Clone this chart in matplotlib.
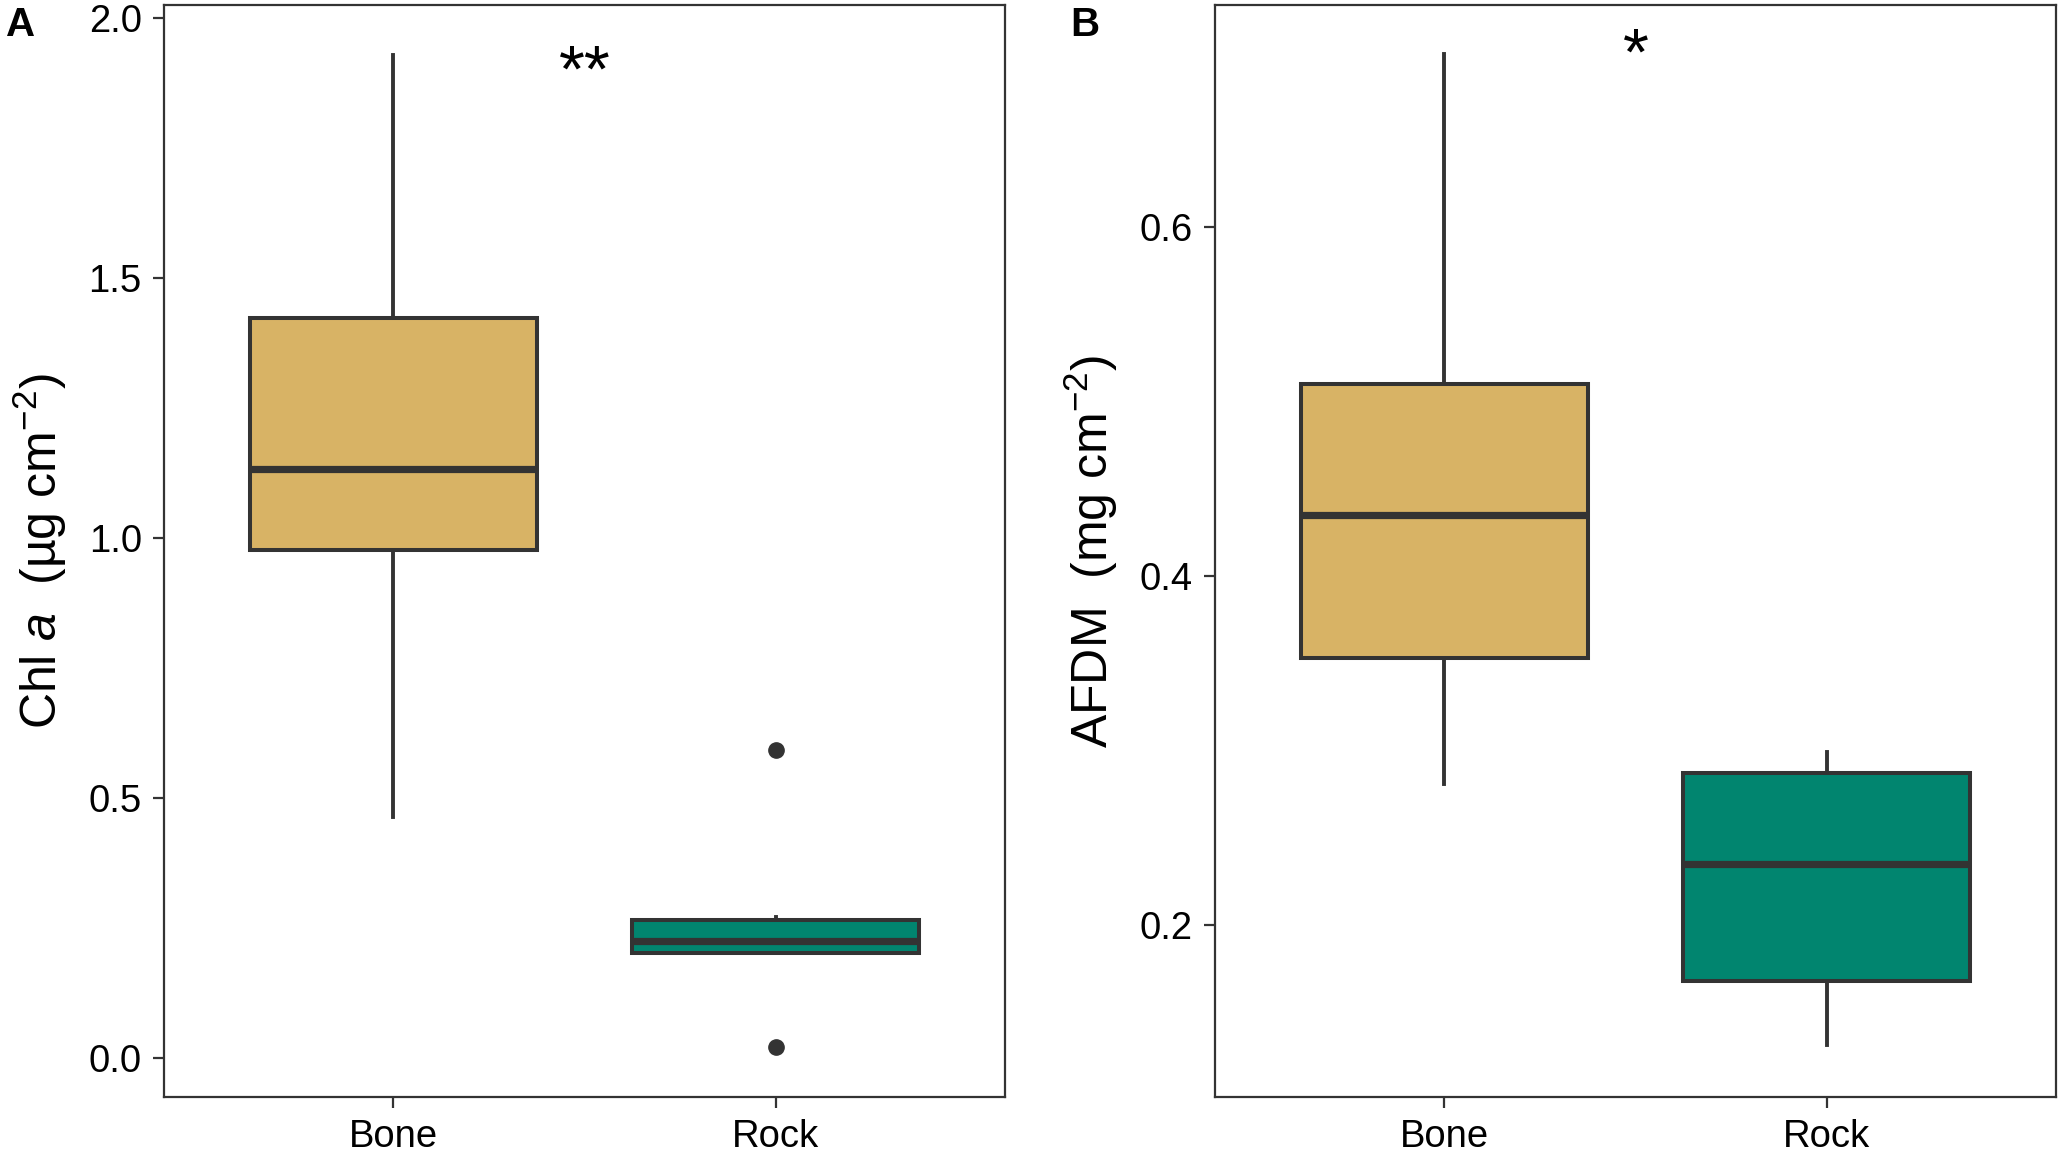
import matplotlib
matplotlib.use('Agg')
import matplotlib.pyplot as plt

# datos (estadísticos de cada caja)
groups = ['Bone', 'Rock']
colors = ['#D8B365', '#01856F']

# Panel A: Chl a
chl_whislo = [0.463, 0.201]
chl_q1 = [0.976, 0.201]
chl_med = [1.133, 0.224]
chl_q3 = [1.424, 0.265]
chl_whishi = [1.929, 0.270]
chl_fliers = [[], [0.592, 0.020]]

# Panel B: AFDM
afdm_whislo = [0.281, 0.131]
afdm_q1 = [0.353, 0.168]
afdm_med = [0.435, 0.235]
afdm_q3 = [0.510, 0.287]
afdm_whishi = [0.699, 0.299]
afdm_fliers = [[], []]

plt.rcParams.update({
    'font.family': ['Liberation Sans', 'DejaVu Sans'],
    'mathtext.fontset': 'custom',
    'mathtext.rm': 'Liberation Sans',
    'mathtext.it': 'Liberation Sans:italic',
    'mathtext.bf': 'Liberation Sans:bold',
})

edge = '#333333'


def make_stats(whislo, q1, med, q3, whishi, fliers):
    stats = []
    for i in range(len(groups)):
        stats.append({'label': groups[i], 'whislo': whislo[i], 'q1': q1[i],
                      'med': med[i], 'q3': q3[i], 'whishi': whishi[i],
                      'fliers': fliers[i]})
    return stats


def draw_panel(ax, stats, ylim, yticks, ylabel):
    bp = ax.bxp(stats, positions=[1, 2], widths=0.75, patch_artist=True,
                showcaps=False,
                boxprops=dict(edgecolor=edge, linewidth=2.9),
                medianprops=dict(color=edge, linewidth=5.2),
                whiskerprops=dict(color=edge, linewidth=2.8),
                flierprops=dict(marker='o', markerfacecolor=edge,
                                markeredgecolor=edge, markersize=11))
    for patch, c in zip(bp['boxes'], colors):
        patch.set_facecolor(c)
    # bigotes por detrás de las cajas, como en ggplot
    for w in bp['whiskers']:
        w.set_zorder(1)
    ax.set_xlim(0.4, 2.6)
    ax.set_ylim(*ylim)
    ax.set_yticks(yticks)
    ax.set_xticks([1, 2])
    ax.set_xticklabels(groups)
    for s in ax.spines.values():
        s.set_color(edge)
        s.set_linewidth(1.6)
    ax.tick_params(colors=edge, labelcolor='black', labelsize=27.5,
                   length=8, width=1.6, pad=8)
    ax.set_ylabel(ylabel, fontsize=36, labelpad=14)


fig = plt.figure(figsize=(20.6, 11.52), dpi=100)
ax1 = fig.add_axes([0.0796, 0.0477, 0.4083, 0.948])
ax2 = fig.add_axes([0.5898, 0.0477, 0.4083, 0.948])

draw_panel(ax1, make_stats(chl_whislo, chl_q1, chl_med, chl_q3, chl_whishi, chl_fliers),
           (-0.0755, 2.0255), [0.0, 0.5, 1.0, 1.5, 2.0],
           'Chl $\\it{a}$  (µg cm$^{-2}$)')
ax1.set_yticklabels(['0.0', '0.5', '1.0', '1.5', '2.0'])
ax1.text(1.5, 1.892, '**', fontsize=48, ha='center', va='center')

draw_panel(ax2, make_stats(afdm_whislo, afdm_q1, afdm_med, afdm_q3, afdm_whishi, afdm_fliers),
           (0.1013, 0.7273), [0.2, 0.4, 0.6],
           'AFDM  (mg cm$^{-2}$)')
ax2.text(1.5, 0.697, '*', fontsize=48, ha='center', va='center')

fig.text(0.003, 0.995, 'A', fontsize=29, fontweight='bold', ha='left', va='top')
fig.text(0.5195, 0.995, 'B', fontsize=29, fontweight='bold', ha='left', va='top')

fig.savefig('out.png', dpi=100, facecolor='white')
